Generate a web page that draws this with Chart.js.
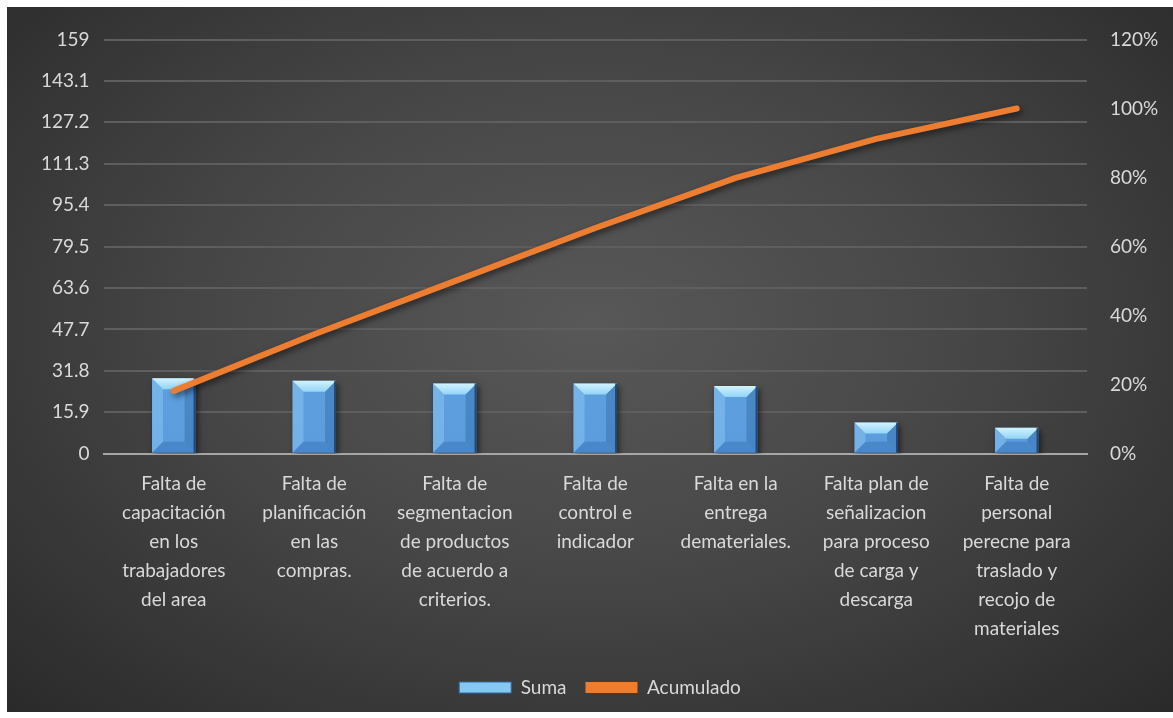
<!DOCTYPE html>
<html>
<head>
<meta charset="utf-8">
<script src="https://cdn.jsdelivr.net/npm/chart.js@4"></script>
<style>
  html, body { margin: 0; padding: 0; background: #fff; }
  #wrap {
    position: absolute; left: 7px; top: 7px; width: 1166px; height: 705px;
    background: radial-gradient(ellipse at 50% 45%, #585858 0%, #474747 45%, #2a2a2a 100%);
  }
</style>
</head>
<body>
<div id="wrap"><canvas id="chart"></canvas></div>
<script>
const categorias = [
  ["Falta de", "capacitación", "en los", "trabajadores", "del area"],
  ["Falta de", "planificación", "en las", "compras."],
  ["Falta de", "segmentacion", "de productos", "de acuerdo a", "criterios."],
  ["Falta de", "control e", "indicador"],
  ["Falta en la", "entrega", "demateriales."],
  ["Falta plan de", "señalizacion", "para proceso", "de carga y", "descarga"],
  ["Falta de", "personal", "perecne para", "traslado y", "recojo de", "materiales"]
];
const suma = [29, 28, 27, 27, 26, 12, 10];
const acumulado = [18.2, 34.6, 50.0, 65.4, 79.9, 91.2, 100];
const ticksIzq = [0, 15.9, 31.8, 47.7, 63.6, 79.5, 95.4, 111.3, 127.2, 143.1, 159];
const ticksDer = [0, 20, 40, 60, 80, 100, 120];

const textColor = "#d9d9d9";
const fuente = { family: "Lato, 'Open Sans', sans-serif", size: 19 };

// bevel look for the bars + shadow for the line
const efectos = {
  id: "efectos",
  beforeDatasetDraw(chart, args) {
    const ctx = chart.ctx;
    ctx.save();
    ctx.shadowColor = "rgba(0,0,0,0.55)";
    ctx.shadowBlur = 6;
    ctx.shadowOffsetX = 2;
    ctx.shadowOffsetY = 3;
  },
  afterDatasetDraw(chart, args) {
    const ctx = chart.ctx;
    ctx.restore();
    if (args.meta.type !== "bar") return;
    args.meta.data.forEach(bar => {
      const left = bar.x - bar.width / 2, right = bar.x + bar.width / 2;
      const top = bar.y, bottom = bar.base;
      const b = Math.min(11, (bottom - top) / 2);
      ctx.save();
      // top bevel
      let g = ctx.createLinearGradient(0, top, 0, top + b);
      g.addColorStop(0, "#d2f3ff");
      g.addColorStop(1, "#93d4f7");
      ctx.fillStyle = g;
      ctx.beginPath();
      ctx.moveTo(left, top); ctx.lineTo(right, top);
      ctx.lineTo(right - b, top + b); ctx.lineTo(left + b, top + b);
      ctx.closePath(); ctx.fill();
      // left bevel
      ctx.fillStyle = "rgba(160,215,250,0.35)";
      ctx.beginPath();
      ctx.moveTo(left, top); ctx.lineTo(left + b, top + b);
      ctx.lineTo(left + b, bottom - b); ctx.lineTo(left, bottom);
      ctx.closePath(); ctx.fill();
      // right bevel
      ctx.fillStyle = "rgba(30,80,140,0.30)";
      ctx.beginPath();
      ctx.moveTo(right, top); ctx.lineTo(right - b, top + b);
      ctx.lineTo(right - b, bottom - b); ctx.lineTo(right, bottom);
      ctx.closePath(); ctx.fill();
      // bottom bevel
      ctx.fillStyle = "rgba(40,100,170,0.35)";
      ctx.beginPath();
      ctx.moveTo(left, bottom); ctx.lineTo(right, bottom);
      ctx.lineTo(right - b, bottom - b); ctx.lineTo(left + b, bottom - b);
      ctx.closePath(); ctx.fill();
      // right edge
      ctx.fillStyle = "rgba(15,45,85,0.7)";
      ctx.fillRect(right - 2, top, 2, bottom - top);
      ctx.restore();
    });
  }
};

new Chart(document.getElementById("chart"), {
  type: "bar",
  data: {
    labels: categorias,
    datasets: [
      {
        label: "Suma",
        data: suma,
        yAxisID: "y",
        order: 1,
        backgroundColor(c) {
          const a = c.chart.chartArea;
          if (!a) return "#5ea2e0";
          const g = c.chart.ctx.createLinearGradient(0, a.top, 0, a.bottom);
          g.addColorStop(0, "#72b6ee");
          g.addColorStop(1, "#5a9cdc");
          return g;
        },
        borderWidth: 0,
        categoryPercentage: 1,
        barPercentage: 0.31
      },
      {
        type: "line",
        label: "Acumulado",
        data: acumulado,
        yAxisID: "y1",
        order: 0,
        borderColor: "#ed7d31",
        backgroundColor: "#ed7d31",
        borderWidth: 6,
        borderCapStyle: "round",
        borderJoinStyle: "round",
        pointRadius: 0,
        tension: 0
      }
    ]
  },
  plugins: [efectos],
  options: {
    responsive: true,
    maintainAspectRatio: false,
    animation: false,
    layout: { padding: { left: 20, right: 0, top: 12, bottom: 5 } },
    plugins: {
      tooltip: { enabled: false },
      legend: {
        position: "bottom",
        labels: {
          color: textColor,
          font: fuente,
          boxWidth: 52,
          boxHeight: 11,
          padding: 19,
          sort: (a, b) => a.datasetIndex - b.datasetIndex,
          generateLabels(chart) {
            return chart.data.datasets.map((ds, i) => ({
              text: ds.label,
              datasetIndex: i,
              fillStyle: i === 0 ? "#84c9f2" : "#ed7d31",
              strokeStyle: i === 0 ? "#2f6aa6" : "#ed7d31",
              lineWidth: i === 0 ? 1 : 0,
              fontColor: textColor,
              hidden: false
            }));
          }
        }
      }
    },
    scales: {
      x: {
        grid: { display: false, drawTicks: false },
        border: { display: true, color: "#a6a6a6", width: 2 },
        ticks: {
          color: textColor,
          font: { ...fuente, lineHeight: 1.52 },
          maxRotation: 0, autoSkip: false, padding: 16
        }
      },
      y: {
        position: "left",
        min: 0,
        max: 159,
        afterBuildTicks(axis) { axis.ticks = ticksIzq.map(v => ({ value: v })); },
        grid: { color: "#5e5e5e", lineWidth: 2, drawTicks: false },
        border: { display: false },
        ticks: {
          color: textColor, font: { ...fuente, lineHeight: 1 }, padding: 14,
          callback: v => String(parseFloat(Number(v).toFixed(1)))
        }
      },
      y1: {
        position: "right",
        min: 0,
        max: 120,
        afterBuildTicks(axis) { axis.ticks = ticksDer.map(v => ({ value: v })); },
        afterFit(axis) { axis.width = 86; },
        grid: { display: false, drawTicks: false },
        border: { display: false },
        ticks: { color: textColor, font: { ...fuente, lineHeight: 1 }, padding: 23, callback: v => v + "%" }
      }
    }
  }
});
</script>
</body>
</html>
